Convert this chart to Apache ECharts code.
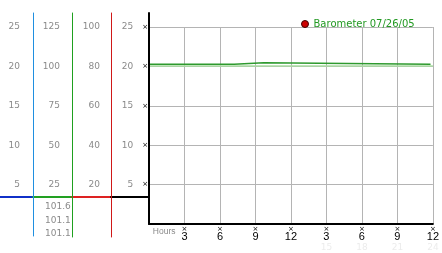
<!DOCTYPE html>
<html><head><meta charset="utf-8">
<script src="https://cdn.jsdelivr.net/npm/echarts@6/dist/echarts.min.js"></script>
<style>html,body{margin:0;padding:0;background:#fff}#c{width:442px;height:253px}</style>
</head><body><div id="c"></div>
<script>
// ---- data ----
const seriesName = 'Barometer 07/26/05';
const baroHours = [0, 7.2, 7.2, 9.7, 9.7, 23.8];
const baroValues = [20.27, 20.27, 20.47, 20.47, 20.27, 20.27];
const refHours = [0, 24];
const refValues = [20.05, 20.05];
const hourTicks = [0, 3, 6, 9, 12, 15, 18, 21, 24];
const hourLabels = ['', '3', '6', '9', '12', '3', '6', '9', '12'];
const dayHourLabels = ['', '', '', '', '', '15', '18', '21', '24'];
const readings = ['101.6', '101.1', '101.1'];
const scaleA = { max: 25, interval: 5 };
const scaleB = { max: 125, interval: 25 };
const scaleC = { max: 100, interval: 20 };
const scaleD = { max: 25, interval: 5 };

const gray = '#8a8a8a';
const hid = () => ({ show: false });

function decoGrid(idx, color, vColor, lw, ymin) {
  return {
    x: { gridIndex: idx, type: 'value', min: 0, max: 1, z: 5,
         axisLine: { show: true, onZero: true, lineStyle: { color: color, width: 2 } },
         axisLabel: hid(), axisTick: hid(), splitLine: hid() },
    y: { gridIndex: idx, type: 'value', position: 'right', min: ymin, max: 184, z: 6,
         axisLine: { show: true, onZero: false, lineStyle: { color: vColor, width: lw } },
         axisLabel: hid(), axisTick: hid(), splitLine: hid() }
  };
}
const grids = [
  { left: 149, right: 4, top: 27, bottom: 29 },
  { left: 0, width: 33, top: 13, height: 223 },
  { left: 33, width: 39, top: 13, height: 224 },
  { left: 72, width: 39, top: 13, height: 224 },
  { left: 111, width: 38, top: 13, height: 211 }
];
const decos = [
  decoGrid(1, '#1030c8', '#1f8fe0', 1, -39),
  decoGrid(2, '#22a022', '#1fa01f', 1, -40),
  decoGrid(3, '#dd2222', '#d01818', 1, -40),
  decoGrid(4, '#000000', '#000000', 2, -27)
];

function sideAxis(scale, offset, margin) {
  return {
    gridIndex: 0, type: 'value', position: 'left', offset: offset, min: 0, max: scale.max, interval: scale.interval,
    axisLine: { show: false, onZero: false, lineStyle: { color: 'rgba(0,0,0,0)', width: 0 } },
    axisTick: hid(), splitLine: hid(), splitArea: hid(),
    axisLabel: { margin: margin, color: gray, fontSize: 9, showMinLabel: false, formatter: v => v === 0 ? '' : String(v) }
  };
}

const option = {
  animation: false,
  textStyle: { fontFamily: 'DejaVu Sans' },
  grid: grids,
  title: {
    text: readings.join('\n'), left: 40, top: 195,
    textStyle: { fontSize: 9, fontWeight: 'normal', color: gray, lineHeight: 13.5, fontFamily: 'DejaVu Sans' }
  },
  legend: {
    left: 296, top: 14, icon: 'circle', itemWidth: 7, itemHeight: 7,
    data: [{ name: seriesName, itemStyle: { color: '#cc0000', borderColor: '#400000', borderWidth: 1 } }],
    textStyle: { color: '#229922', fontSize: 10, fontFamily: 'DejaVu Sans' }
  },
  xAxis: [
    {
      gridIndex: 0, type: 'value', min: 0, max: 24, interval: 3,
      name: 'Hours', nameLocation: 'start', nameGap: -4,
      nameTextStyle: { color: gray, fontSize: 8.5, align: 'left', verticalAlign: 'top', padding: [3, 0, 0, 0], fontFamily: 'Liberation Sans' },
      axisLine: { show: true, onZero: false, lineStyle: { color: '#000', width: 2 } },
      axisTick: hid(),
      splitLine: { show: true, lineStyle: { color: '#b4b4b4', width: 1 } },
      axisLabel: {
        margin: 3, verticalAlign: 'top', showMinLabel: false,
        formatter: v => {
          const i = hourTicks.indexOf(v);
          if (i <= 0) return '';
          let s = '{t|×}\n{n|' + hourLabels[i] + '}';
          if (dayHourLabels[i]) s += '\n{d|' + dayHourLabels[i] + '}';
          return s;
        },
        rich: {
          t: { fontSize: 7, color: '#000', lineHeight: 5 },
          n: { fontSize: 11, color: '#000', lineHeight: 10, fontFamily: 'Liberation Sans' },
          d: { fontSize: 9, color: '#ececec', lineHeight: 11 }
        }
      }
    },
    decos[0].x, decos[1].x, decos[2].x, decos[3].x
  ],
  yAxis: [
    {
      gridIndex: 0, type: 'value', min: 0, max: scaleD.max, interval: scaleD.interval,
      axisLine: { show: false, onZero: false }, axisTick: hid(),
      splitLine: { show: true, lineStyle: { color: '#b4b4b4', width: 1 } },
      axisLabel: {
        margin: 1, showMinLabel: false,
        formatter: v => v === 0 ? '' : '{n|' + v + '}{t|×}',
        rich: { n: { fontSize: 9, color: gray }, t: { fontSize: 7, color: '#000', padding: [0, 0, 0, 9] } }
      }
    },
    decos[0].y, decos[1].y, decos[2].y, decos[3].y,
    sideAxis(scaleA, 116, 13),
    sideAxis(scaleB, 77, 12),
    sideAxis(scaleC, 38, 11)
  ],
  series: [
    {
      name: 'ref', type: 'line', xAxisIndex: 0, yAxisIndex: 0, symbol: 'none',
      data: refHours.map((h, i) => [h, refValues[i]]),
      lineStyle: { color: '#a9dca0', width: 1.5 }, itemStyle: { color: '#a9dca0' }
    },
    {
      name: seriesName, type: 'line', xAxisIndex: 0, yAxisIndex: 0, symbol: 'none',
      data: baroHours.map((h, i) => [h, baroValues[i]]),
      lineStyle: { color: '#2e9a2e', width: 1.5 }, itemStyle: { color: '#2e9a2e' }
    }
  ]
};
const chart = echarts.init(document.getElementById('c'), null, { renderer: 'canvas' });
chart.setOption(option);
</script></body></html>
